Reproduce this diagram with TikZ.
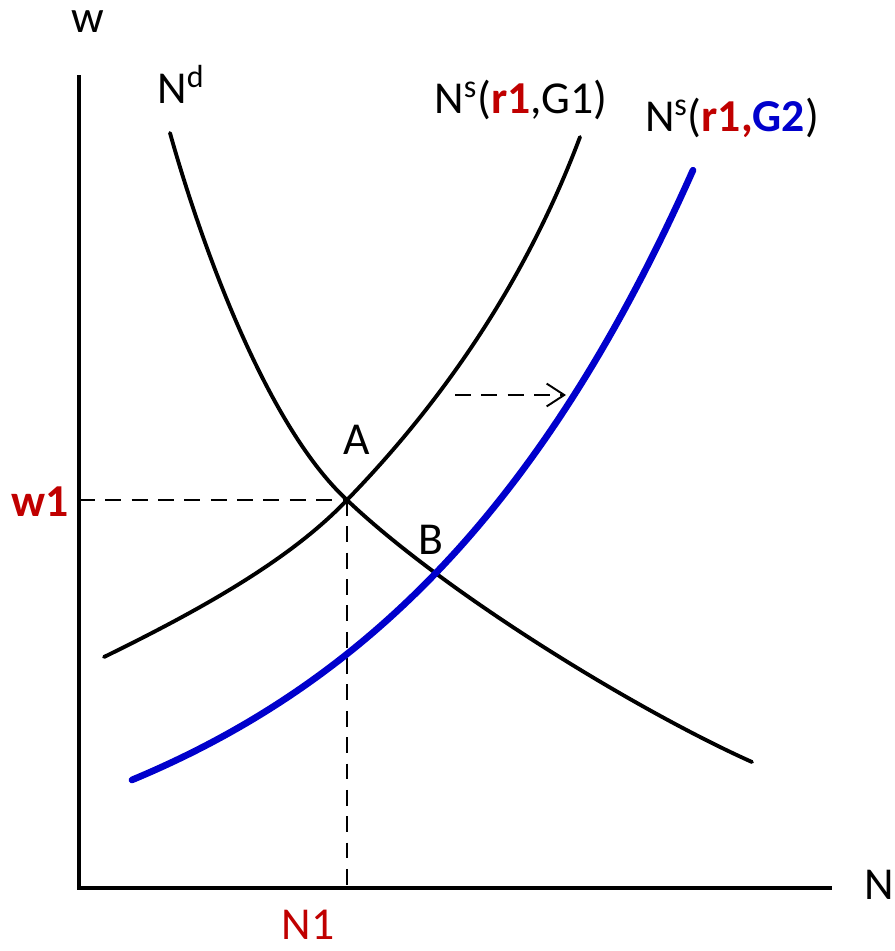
\documentclass[tikz,border=0pt]{standalone}
\usepackage{fontspec}
\setmainfont{Carlito}
\usetikzlibrary{arrows.meta,calc}
\definecolor{lred}{HTML}{C00000}
\definecolor{lblue}{HTML}{0000CC}
\tikzset{
  curve/.style={line width=2.2pt, line cap=round},
  guide/.style={line width=1.1pt, dash pattern=on 9pt off 6pt},
  lab/.style={font=\fontsize{26}{30}\selectfont, inner sep=0pt}
}
\begin{document}
\begin{tikzpicture}[x={(0.02cm,0)}, y={(0,-0.02cm)}]
 \useasboundingbox (0,0) rectangle (894,951);
 % axes
 \coordinate (O) at (79,888);
 \coordinate (ytop) at (79,75);
 \coordinate (xend) at (832,888);
 \draw[line width=2.4pt] (ytop) -- (O) -- (xend);
 \node[lab] (wlab) at (88,22) {w};
 \node[lab] (nlab) at (879,885) {N};
 % equilibrium points
 \coordinate (A) at (347,500);
 \coordinate (wA) at (O |- A);
 \coordinate (nA) at (A |- O);
 \draw[guide] (wA) -- (A);
 \draw[guide] (A) -- (nA);
 \node[lab, text=lred, font=\fontsize{26}{30}\selectfont\bfseries] (w1) at (40,502) {w1};
 \node[lab, text=lred] (n1) at (308,925) {N1};
 % labour demand
 \draw[curve] (170,133) .. controls (200,240) and (265,424) .. (A)
   .. controls (447,595) and (640,712) .. (752,762);
 % labour supply, G1
 \draw[curve] (104,657) .. controls (200,610) and (290,560) .. (A)
   .. controls (415,430) and (515,310) .. (580,137);
 % labour supply, G2
 \draw[curve, lblue, line width=3.8pt] plot[domain=132:693, samples=80]
   (\x, {918.5-93.2*exp(0.003*\x)});
 % shift
 \coordinate (sh1) at (455,395);
 \coordinate (sh2) at (566,395);
 \draw[guide, -{Straight Barb[length=10pt, width=13pt, line width=1.1pt]}] (sh1) -- (sh2);
 % labels
 \node[lab] (nd) at (181,84) {N\textsuperscript{d}};
 \node[lab] (ns1) at (521,100) {N\textsuperscript{s}(\textcolor{lred}{\bfseries r1},G1)};
 \node[lab] (ns2) at (732,118) {N\textsuperscript{s}(\textcolor{lred}{\bfseries r1,}\textcolor{lblue}{\bfseries G2})};
 \node[lab] (alab) at (357,440) {A};
 \node[lab] (blab) at (431,540) {B};
\end{tikzpicture}
\end{document}
